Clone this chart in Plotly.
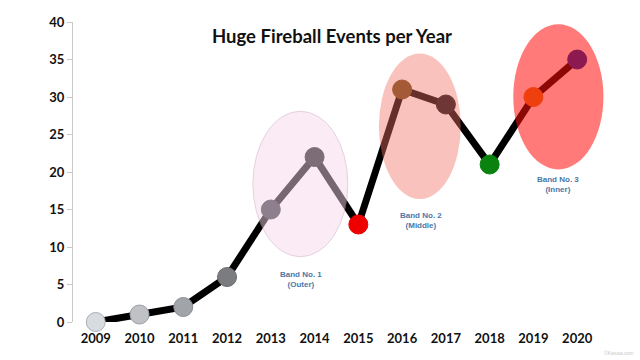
import plotly.graph_objects as go

years = [2009, 2010, 2011, 2012, 2013, 2014, 2015, 2016, 2017, 2018, 2019, 2020]
events = [0, 1, 2, 6, 15, 22, 13, 31, 29, 21, 30, 35]
# underlying marker colours (bands are translucent overlays on top)
marker_colors = ["#d8dbdf", "#bfc1c5", "#a1a4a9", "#7a7c80", "#2c2e3a", "#0a0c0c",
                 "#ee0000", "#6d4a16", "#0e0e16", "#0a820f", "#de7c17", "#0028a6"]
marker_borders = ["#a8b0b8", "#9aa0a8", "#8a9098", "#6a6c70", "#2c2e3a", "#0a0c0c",
                  "#ee0000", "#6d4a16", "#0e0e16", "#0a820f", "#de7c17", "#0028a6"]

band_labels = ["Band No. 1<br>(Outer)", "Band No. 2<br>(Middle)", "Band No. 3<br>(Inner)"]
band_x = [(2012.59, 2014.76), (2015.47, 2017.34), (2018.54, 2020.6)]
band_y = [(8.7, 28.1), (16.4, 35.8), (20.35, 39.7)]
band_fill = ["rgb(248,215,235)", "rgb(243,112,100)", "rgb(255,15,10)"]
band_opacity = [0.48, 0.42, 0.55]
band_border = ["rgb(200,160,185)", "rgba(0,0,0,0)", "rgba(0,0,0,0)"]
label_x = [2013.7, 2016.44, 2019.56]
label_y = [5.7, 13.5, 18.35]

L, R, T, B = 73, 30, 22, 38
PW, PH = 640 - L - R, 360 - T - B

fig = go.Figure()
fig.add_trace(go.Scatter(
    x=years, y=events, mode="lines+markers",
    line=dict(color="black", width=7),
    marker=dict(size=19, color=marker_colors, line=dict(color=marker_borders, width=1)),
    cliponaxis=False, hoverinfo="skip", showlegend=False,
))

for (x0, x1), (y0, y1), fc, op, bc in zip(band_x, band_y, band_fill, band_opacity, band_border):
    fig.add_shape(type="circle", xref="x", yref="y", x0=x0, x1=x1, y0=y0, y1=y1,
                  fillcolor=fc, opacity=op, line=dict(color=bc, width=1), layer="above")

for t, lx, ly in zip(band_labels, label_x, label_y):
    fig.add_annotation(x=lx, y=ly, xref="x", yref="y", text="<b>" + t + "</b>",
                       showarrow=False, font=dict(family="Liberation Sans", size=8, color="#4a78a6"))

fig.add_annotation(x=(332 - L) / PW, y=(360 - B - 36) / PH, xref="paper", yref="paper",
                   xanchor="center", yanchor="middle",
                   text="<b>Huge Fireball Events per Year</b>",
                   showarrow=False, font=dict(family="Lato", size=18.5, color="#111111"))

fig.add_annotation(x=(636 - L) / PW, y=(360 - B - 353) / PH, xref="paper", yref="paper",
                   text="©Kwusa.com", showarrow=False, xanchor="right", yanchor="middle",
                   font=dict(family="Liberation Sans", size=5, color="#c8c8c8"))

tickfont = dict(family="Lato", size=13, color="#111111", weight="bold")
fig.update_layout(
    width=640, height=360,
    margin=dict(l=L, r=R, t=T, b=B),
    paper_bgcolor="white", plot_bgcolor="white",
    xaxis=dict(range=[2008.48, 2020.75], tickmode="array", tickvals=years,
               ticktext=[str(y) for y in years], showgrid=False, zeroline=False,
               showline=False, ticks="outside", ticklen=4, tickcolor="rgba(0,0,0,0)",
               tickfont=tickfont),
    yaxis=dict(range=[0, 40], tickvals=[0, 5, 10, 15, 20, 25, 30, 35, 40], showgrid=False,
               zeroline=False, showline=True, linecolor="#c8c8c8", linewidth=1,
               ticks="outside", ticklen=5, tickcolor="#c8c8c8",
               tickfont=tickfont),
)

fig.write_html("out.html", config={"displayModeBar": False},
               post_script="document.body.style.margin='0';")
